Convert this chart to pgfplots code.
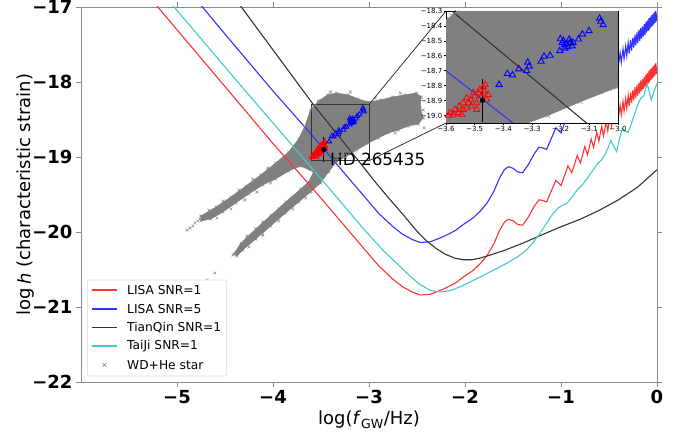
\documentclass[border=0pt]{standalone}
\usepackage{pgfplots}
\pgfplotsset{compat=1.18}
\usepackage{pgfplotstable}
\usepackage{fontspec}
\setmainfont{DejaVu Sans}
\definecolor{cRed}{rgb}{1,0.2,0.2}
\definecolor{cBlue}{rgb}{0.2,0.2,1}
\definecolor{cBlack}{rgb}{0.2,0.2,0.2}
\definecolor{cCyan}{rgb}{0.25,0.8,0.78}
\definecolor{cGray}{rgb}{0.5,0.5,0.5}
\definecolor{cSpine}{rgb}{0.55,0.55,0.55}
\definecolor{cFrame}{rgb}{0.85,0.85,0.85}

% ---------- sensitivity curves ----------
\pgfplotstableread{
x y
-5.25 -16.92
-5.20 -17.00
-4.56 -17.97
-4.00 -18.82
-3.60 -19.40
-3.20 -20.00
-2.90 -20.45
-2.75 -20.63
-2.65 -20.73
-2.55 -20.80
-2.466 -20.84
-2.36 -20.83
-2.26 -20.78
-2.19 -20.74
-2.10 -20.68
-2.017 -20.60
-1.913 -20.51
-1.84 -20.42
-1.773 -20.32
-1.70 -20.16
-1.64 -19.98
-1.59 -19.87
-1.55 -19.83
-1.50 -19.85
-1.45 -19.90
-1.40 -19.91
-1.34 -19.80
-1.28 -19.66
-1.229 -19.57
-1.19 -19.58
-1.15 -19.60
-1.053 -19.31
-0.999 -19.38
-0.928 -19.12
-0.887 -19.21
-0.831 -18.98
-0.798 -19.08
-0.752 -18.86
-0.724 -18.97
-0.685 -18.76
-0.661 -18.87
-0.627 -18.67
-0.606 -18.79
-0.576 -18.59
-0.557 -18.72
-0.530 -18.53
-0.513 -18.65
-0.489 -18.46
-0.473 -18.59
-0.451 -18.41
-0.437 -18.54
-0.416 -18.35
-0.403 -18.48
-0.384 -18.31
-0.372 -18.44
-0.354 -18.26
-0.343 -18.39
-0.326 -18.22
-0.315 -18.35
-0.300 -18.18
-0.290 -18.32
-0.275 -18.14
-0.265 -18.28
-0.251 -18.11
-0.242 -18.24
-0.229 -18.07
-0.221 -18.21
-0.208 -18.04
-0.200 -18.18
-0.188 -18.01
-0.180 -18.15
-0.169 -17.98
-0.161 -18.12
-0.150 -17.96
-0.143 -18.09
-0.132 -17.93
-0.125 -18.07
-0.115 -17.90
-0.109 -18.04
-0.099 -17.88
-0.092 -18.02
-0.083 -17.85
-0.077 -18.00
-0.068 -17.83
-0.062 -17.97
-0.053 -17.81
-0.047 -17.95
-0.039 -17.79
-0.033 -17.93
-0.025 -17.77
-0.020 -17.91
-0.012 -17.75
-0.0065 -17.89
0.0 -17.80
}\lisaone

\pgfplotstableread{
x y
-4.80 -16.90
-4.56 -17.27
-4.00 -18.12
-3.60 -18.70
-3.20 -19.30
-2.90 -19.75
-2.75 -19.93
-2.65 -20.03
-2.55 -20.10
-2.466 -20.14
-2.36 -20.13
-2.26 -20.08
-2.19 -20.04
-2.10 -19.98
-2.017 -19.90
-1.913 -19.81
-1.84 -19.72
-1.773 -19.62
-1.70 -19.46
-1.64 -19.28
-1.59 -19.17
-1.55 -19.13
-1.50 -19.15
-1.45 -19.20
-1.40 -19.21
-1.34 -19.10
-1.28 -18.96
-1.229 -18.87
-1.19 -18.88
-1.15 -18.90
-1.053 -18.61
-0.999 -18.68
-0.928 -18.42
-0.887 -18.51
-0.831 -18.28
-0.798 -18.38
-0.752 -18.16
-0.724 -18.27
-0.685 -18.06
-0.661 -18.17
-0.627 -17.97
-0.606 -18.09
-0.576 -17.89
-0.557 -18.02
-0.530 -17.83
-0.513 -17.95
-0.489 -17.76
-0.473 -17.89
-0.451 -17.71
-0.437 -17.84
-0.416 -17.65
-0.403 -17.78
-0.384 -17.61
-0.372 -17.74
-0.354 -17.56
-0.343 -17.69
-0.326 -17.52
-0.315 -17.65
-0.300 -17.48
-0.290 -17.62
-0.275 -17.44
-0.265 -17.58
-0.251 -17.41
-0.242 -17.54
-0.229 -17.37
-0.221 -17.51
-0.208 -17.34
-0.200 -17.48
-0.188 -17.31
-0.180 -17.45
-0.169 -17.28
-0.161 -17.42
-0.150 -17.26
-0.143 -17.39
-0.132 -17.23
-0.125 -17.37
-0.115 -17.20
-0.109 -17.34
-0.099 -17.18
-0.092 -17.32
-0.083 -17.15
-0.077 -17.30
-0.068 -17.13
-0.062 -17.27
-0.053 -17.11
-0.047 -17.25
-0.039 -17.09
-0.033 -17.23
-0.025 -17.07
-0.020 -17.21
-0.012 -17.05
-0.0065 -17.19
0.0 -17.10
}\lisafive

\pgfplotstableread{
x y
-4.40 -16.88
-4.33 -17.00
-3.58 -18.30
-3.11 -19.05
-2.95 -19.31
-2.80 -19.54
-2.65 -19.76
-2.50 -19.99
-2.40 -20.12
-2.30 -20.22
-2.20 -20.30
-2.10 -20.35
-2.02 -20.37
-1.93 -20.37
-1.85 -20.35
-1.77 -20.32
-1.60 -20.25
-1.40 -20.15
-1.22 -20.05
-1.00 -19.93
-0.80 -19.83
-0.60 -19.71
-0.40 -19.57
-0.20 -19.40
0.00 -19.17
}\tianqin

\pgfplotstableread{
x y
-5.10 -16.90
-5.03 -17.00
-4.387 -17.97
-3.40 -19.44
-3.055 -19.96
-2.85 -20.25
-2.70 -20.43
-2.58 -20.58
-2.47 -20.70
-2.36 -20.78
-2.26 -20.80
-2.15 -20.78
-2.05 -20.73
-1.92 -20.65
-1.75 -20.54
-1.57 -20.42
-1.45 -20.33
-1.36 -20.24
-1.29 -20.14
-1.22 -20.02
-1.15 -19.88
-1.08 -19.75
-1.03 -19.68
-0.98 -19.64
-0.94 -19.62
-0.90 -19.56
-0.85 -19.47
-0.81 -19.41
-0.77 -19.36
-0.72 -19.27
-0.67 -19.18
-0.62 -19.09
-0.58 -19.04
-0.55 -18.99
-0.51 -18.88
-0.48 -18.78
-0.45 -18.86
-0.42 -18.93
-0.39 -18.75
-0.36 -18.62
-0.33 -18.66
-0.30 -18.67
-0.27 -18.57
-0.24 -18.45
-0.20 -18.30
-0.17 -18.22
-0.14 -18.19
-0.12 -18.10
-0.10 -18.03
-0.08 -18.13
-0.06 -18.24
-0.03 -18.12
0.00 -18.02
}\taiji

% ---------- WD+He star population: outline of the dense cloud ----------
\pgfplotstableread{
x y
-4.751 -19.787
-4.595 -19.667
-4.439 -19.533
-4.283 -19.387
-4.128 -19.240
-3.972 -19.080
-3.837 -18.933
-3.733 -18.760
-3.671 -18.600
-3.609 -18.373
-3.526 -18.253
-3.432 -18.173
-3.339 -18.147
-3.214 -18.173
-3.110 -18.227
-3.006 -18.267
-2.882 -18.240
-2.757 -18.200
-2.632 -18.173
-2.508 -18.147
-2.456 -18.200
-2.466 -18.347
-2.435 -18.480
-2.487 -18.560
-2.591 -18.587
-2.695 -18.640
-2.799 -18.680
-2.902 -18.747
-3.006 -18.813
-3.131 -18.907
-3.245 -19.000
-3.339 -19.067
-3.422 -19.200
-3.505 -19.347
-3.609 -19.467
-3.733 -19.600
-3.868 -19.747
-4.024 -19.920
-4.180 -20.093
-4.315 -20.240
-4.377 -20.320
-4.408 -20.293
-4.335 -20.150
-4.180 -19.960
-4.024 -19.780
-3.868 -19.600
-3.712 -19.427
-3.629 -19.333
-3.577 -19.200
-3.712 -19.120
-3.837 -19.187
-3.972 -19.293
-4.107 -19.373
-4.252 -19.493
-4.387 -19.613
-4.522 -19.733
-4.647 -19.827
-4.751 -19.853
-4.751 -19.787
}\cloud

% ---------- WD+He star population: scattered systems ----------
\pgfplotstableread{
x y
-4.896 -19.973
-4.865 -19.947
-4.834 -19.920
-4.813 -19.880
-4.782 -19.853
-4.761 -19.827
-4.730 -19.813
-4.699 -19.773
-4.668 -19.760
-4.626 -19.720
-4.418 -20.307
-4.387 -20.267
-4.356 -20.240
-4.325 -20.213
-4.294 -20.173
-4.263 -20.147
-4.688 -20.640
-4.605 -20.547
-4.668 -19.707
-4.522 -19.587
-4.356 -19.440
-4.211 -19.293
-4.055 -19.147
-4.585 -19.813
-4.439 -19.693
-4.294 -19.573
-4.169 -19.467
-4.024 -19.347
-4.273 -20.053
-4.107 -19.867
-3.941 -19.693
-3.795 -19.533
-4.252 -20.200
-4.107 -20.040
-3.941 -19.853
-3.795 -19.693
-3.660 -19.547
-3.401 -18.133
-3.193 -18.133
-2.934 -18.213
-2.674 -18.147
-2.435 -18.373
-2.425 -18.613
-2.726 -18.680
-3.660 -18.773
-3.712 -18.907
-3.36 -19.03
-3.33 -19.02
-3.30 -18.99
-3.27 -18.98
-3.24 -18.96
-3.21 -18.95
-3.18 -18.92
-3.15 -18.90
-3.12 -18.88
-3.09 -18.86
-3.06 -18.84
-3.03 -18.82
-3.35 -19.00
-3.28 -18.95
-3.22 -18.92
-3.16 -18.87
-3.10 -18.84
-3.04 -18.79
-3.58 -18.33
-3.56 -18.31
-3.59 -18.35
}\sparse

\pgfplotstableread{
x y
-3.415 -18.793
-3.386 -18.720
-3.368 -18.729
-3.346 -18.689
-3.319 -18.700
-3.315 -18.644
-3.310 -18.671
-3.268 -18.638
-3.258 -18.604
-3.237 -18.598
-3.203 -18.567
-3.201 -18.487
-3.194 -18.511
-3.186 -18.527
-3.190 -18.500
-3.180 -18.520
-3.170 -18.490
-3.175 -18.540
-3.165 -18.510
-3.185 -18.550
-3.160 -18.535
-3.168 -18.516
-3.157 -18.511
-3.138 -18.489
-3.124 -18.456
-3.101 -18.433
-3.064 -18.349
-3.052 -18.393
-3.060 -18.370
}\bluetri

\pgfplotstableread{
x y
-3.586 -18.982
-3.569 -18.960
-3.554 -18.938
-3.540 -18.916
-3.528 -18.882
-3.514 -18.893
-3.499 -18.871
-3.487 -18.849
-3.482 -18.827
-3.468 -18.838
-3.458 -18.893
-3.493 -18.916
-3.511 -18.938
-3.540 -18.960
-3.557 -18.982
-3.574 -18.993
-3.476 -18.871
-3.505 -18.849
-3.522 -18.916
-3.470 -18.809
-3.464 -18.793
-3.592 -19.000
-3.545 -18.993
-3.493 -18.960
-3.528 -18.949
-3.453 -18.860
}\redtri

\begin{document}
\begin{tikzpicture}
\begin{axis}[
  name=main, at={(0pt,0pt)}, anchor=south west,
  scale only axis, width=576pt, height=375pt,
  xmin=-6, xmax=0, ymin=-22, ymax=-17,
  xtick={-5,-4,-3,-2,-1,0},
  xticklabels={−5,−4,−3,−2,−1,0},
  ytick={-22,-21,-20,-19,-18,-17},
  yticklabels={−22,−21,−20,−19,−18,−17},
  tick align=outside, xtick pos=both, ytick pos=both,
  xticklabel pos=bottom, yticklabel pos=left,
  major tick length=5pt,
  every tick/.style={cSpine, line width=0.8pt},
  axis line style={cSpine, line width=0.8pt},
  ticklabel style={font=\fontsize{18}{20}\selectfont\bfseries},
  xlabel={log(\textit{f}\textsubscript{GW}/Hz)},
  ylabel={log\,\textit{h} (characteristic strain)},
  label style={font=\fontsize{18}{20}\selectfont},
  xlabel style={at={(axis description cs:0.5,-0.1013)}, anchor=center},
  ylabel style={at={(axis description cs:-0.0955,0.5)}, anchor=center},
]
\addplot[fill=cGray, draw=cGray, line width=0.5pt] table[x=x,y=y]{\cloud};
\addplot[only marks, mark=x, mark size=2pt, cGray] table[x=x,y=y]{\cloud};
\addplot[only marks, mark=x, mark size=2pt, cGray] table[x=x,y=y]{\sparse};
\addplot[only marks, mark=triangle, mark size=2.8pt, draw=red, fill=red!50, line width=0.8pt] table[x=x,y=y]{\redtri};
\addplot[only marks, mark=triangle, mark size=2.8pt, draw=blue, fill=white, line width=0.8pt] table[x=x,y=y]{\bluetri};
\addplot[only marks, mark=*, mark size=2.3pt, black,
  error bars/.cd, y dir=both, y explicit,
  error bar style={black, line width=1pt},
  error mark options={black, mark size=3pt, line width=1pt}]
  coordinates {(-3.473,-18.90) +- (0,0.125)};

\addplot[draw=cRed, line width=1.1pt] table[x=x,y=y]{\lisaone};
\addplot[draw=cBlue, line width=1.1pt] table[x=x,y=y]{\lisafive};
\addplot[draw=cBlack, line width=1.1pt] table[x=x,y=y]{\tianqin};
\addplot[draw=cCyan, line width=1.1pt] table[x=x,y=y]{\taiji};

\draw[black!80, line width=0.8pt] (axis cs:-3.6,-19.05) rectangle (axis cs:-3.0,-18.3);
\coordinate (rTR) at (axis cs:-3.0,-18.3);
\coordinate (rBR) at (axis cs:-3.0,-19.05);
\node[anchor=west, font=\fontsize{16.8}{18}\selectfont, inner sep=0pt] at (axis cs:-3.406,-19.033) {HD 265435};
\end{axis}

% legend (drawn as a key box)
\begin{scope}[font=\fontsize{12.25}{14}\selectfont]
\draw[cFrame, fill=white, rounded corners=2pt, line width=0.6pt] (6.3pt,6pt) rectangle (145.7pt,102pt);
\draw[cRed, line width=1.5pt] (11pt,92pt) -- (36pt,92pt);
\node[anchor=west, inner sep=0pt] at (46pt,92pt) {LISA SNR=1};
\draw[cBlue, line width=1.5pt] (11pt,73pt) -- (36pt,73pt);
\node[anchor=west, inner sep=0pt] at (46pt,73pt) {LISA SNR=5};
\draw[cBlack, line width=1.5pt] (11pt,54.7pt) -- (36pt,54.7pt);
\node[anchor=west, inner sep=0pt] at (46pt,54.7pt) {TianQin SNR=1};
\draw[cCyan, line width=1.5pt] (11pt,36pt) -- (36pt,36pt);
\node[anchor=west, inner sep=0pt] at (46pt,36pt) {TaiJi SNR=1};
\draw[cGray, line width=0.7pt] (21.5pt,15pt) -- (25.5pt,19pt) (21.5pt,19pt) -- (25.5pt,15pt);
\node[anchor=west, inner sep=0pt] at (46pt,17pt) {WD+He star};
\end{scope}

\draw[black!80, line width=0.8pt] (rTR) -- (365pt,371pt);
\draw[black!80, line width=0.8pt] (rBR) -- (365pt,259pt);

\begin{axis}[
  name=inset, at={(365pt,259pt)}, anchor=south west,
  scale only axis, width=172pt, height=112pt,
  xmin=-3.6, xmax=-3.0, ymin=-19.05, ymax=-18.3,
  axis background/.style={fill=white},
  xtick={-3.6,-3.5,-3.4,-3.3,-3.2,-3.1,-3.0},
  xticklabels={−3.6,−3.5,−3.4,−3.3,−3.2,−3.1,−3.0},
  ytick={-19.0,-18.9,-18.8,-18.7,-18.6,-18.5,-18.4,-18.3},
  yticklabels={−19.0,−18.9,−18.8,−18.7,−18.6,−18.5,−18.4,−18.3},
  tick align=outside, xtick pos=bottom, ytick pos=left,
  major tick length=2.5pt,
  every tick/.style={black, line width=0.6pt},
  axis line style={black, line width=0.7pt},
  ticklabel style={font=\fontsize{7}{8}\selectfont, inner sep=1pt},
]
\addplot[fill=cGray, draw=cGray, line width=0.5pt] table[x=x,y=y]{\cloud};
\addplot[only marks, mark=x, mark size=3pt, cGray] table[x=x,y=y]{\cloud};
\addplot[only marks, mark=x, mark size=3pt, cGray] table[x=x,y=y]{\sparse};
\addplot[draw=cBlue, line width=1.1pt] table[x=x,y=y]{\lisafive};
\addplot[draw=cBlack, line width=1.1pt] table[x=x,y=y]{\tianqin};
\addplot[only marks, mark=triangle, mark size=3.6pt, draw=red, fill=red!45, line width=0.8pt] table[x=x,y=y]{\redtri};
\addplot[only marks, mark=triangle, mark size=3.6pt, draw=blue, fill=white, line width=0.9pt] table[x=x,y=y]{\bluetri};
\addplot[only marks, mark=*, mark size=2.3pt, black,
  error bars/.cd, y dir=both, y explicit,
  error bar style={black, line width=1pt},
  error mark options={black, mark size=3pt, line width=1pt}]
  coordinates {(-3.473,-18.90) +- (0,0.125)};
\end{axis}

\pgfresetboundingbox
\path (-81pt,-54pt) rectangle (613pt,382pt);
\end{tikzpicture}
\end{document}
